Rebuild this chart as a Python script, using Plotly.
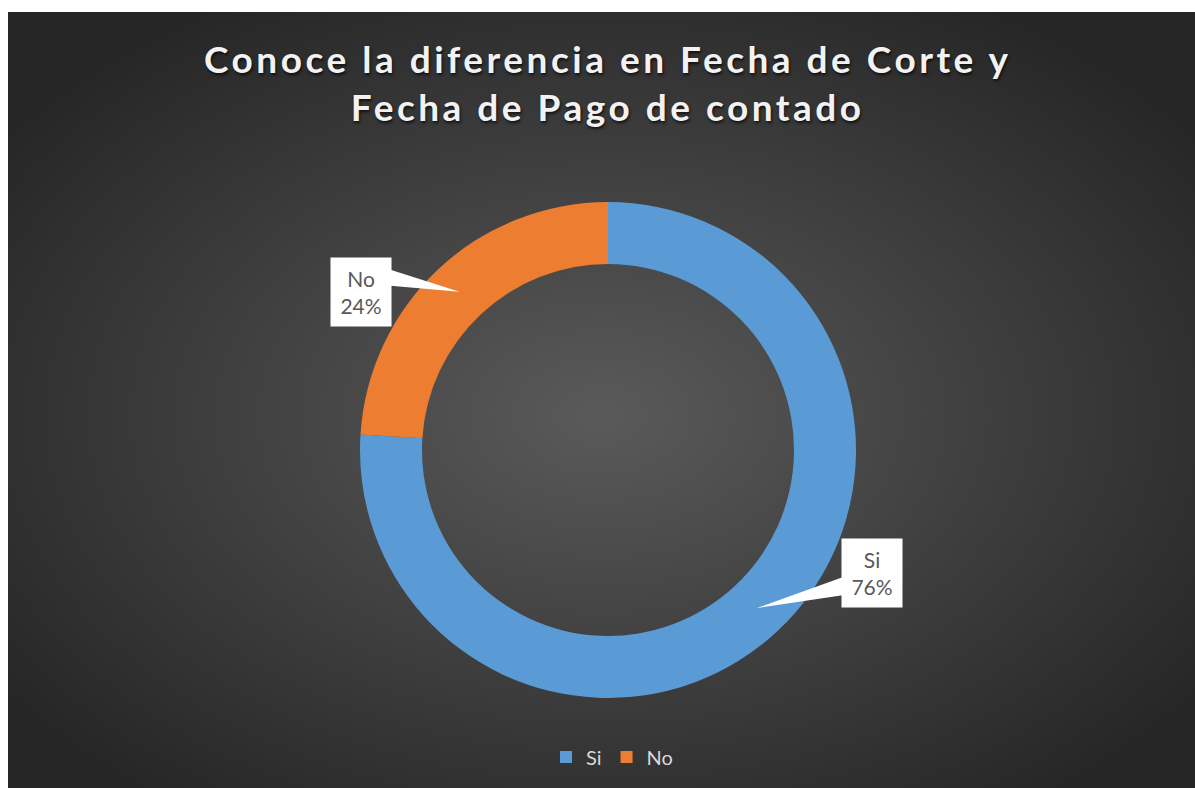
import math
import base64
import plotly.graph_objects as go

# ---- data ----
labels = ["Si", "No"]
values = [76, 24]
colors = ["#5B9BD5", "#ED7D31"]
title_lines = ["Conoce la diferencia en Fecha de Corte y", "Fecha de Pago de contado"]

W, H = 1195, 788
CX, CY, R = 608, 450, 248
HOLE = 0.75

def px(x):
    return x / W

def py(y):
    return 1 - y / H

fig = go.Figure()
fig.add_trace(go.Pie(
    labels=labels, values=values, hole=HOLE, sort=False, direction="clockwise",
    rotation=0, textinfo="none", hoverinfo="label+percent",
    marker=dict(colors=colors, line=dict(width=0)),
    domain=dict(x=[px(CX - R), px(CX + R)], y=[py(CY + R), py(CY - R)]),
))

# background gradient image (styling only)
svg = f'''<svg xmlns="http://www.w3.org/2000/svg" width="{W-8}" height="{H-12}">
<defs><radialGradient id="g" cx="50%" cy="52%" r="62%">
<stop offset="0%" stop-color="#5a5a5a"/><stop offset="100%" stop-color="#262626"/>
</radialGradient></defs><rect width="100%" height="100%" fill="url(#g)"/></svg>'''
src = "data:image/svg+xml;base64," + base64.b64encode(svg.encode()).decode()

FONT = "Lato, 'Open Sans', sans-serif"

annotations = [dict(
    x=px(CX), y=py(34), xref="paper", yref="paper", showarrow=False,
    xanchor="center", yanchor="top", align="center",
    text="<br>".join(title_lines),
    font=dict(family=FONT, size=37, color="#f2f2f2", weight="bold",
              shadow="1px 2px 3px rgba(0,0,0,0.7)"),
)]
shapes = []

# callout labels computed from data
total = sum(values)
r_mid = R * (1 + HOLE) / 2
box_off = {"No": (-98, 0), "Si": (115, -35)}
base_span = {"No": (-22, -6), "Si": (4, 22)}
box_w, box_h = 58, 66
cum = 0
for lab, v in zip(labels, values):
    frac = v / total
    mid = (cum + frac / 2) * 2 * math.pi
    cum += frac
    tx = CX + r_mid * math.sin(mid)
    ty = CY - r_mid * math.cos(mid)
    ox, oy = box_off[lab]
    bx, by = tx + ox, ty + oy
    edge_x = bx + (box_w / 2 if ox < 0 else -box_w / 2)
    b1, b2 = base_span[lab]
    path = (f"M {px(edge_x)},{py(by + b1)} L {px(tx)},{py(ty)} "
            f"L {px(edge_x)},{py(by + b2)} Z")
    shapes.append(dict(type="path", xref="paper", yref="paper", path=path,
                       fillcolor="white", line=dict(width=0), layer="above"))
    annotations.append(dict(
        x=px(bx), y=py(by), xref="paper", yref="paper", showarrow=False,
        xanchor="center", yanchor="middle",
        text=f"{lab}<br>{round(frac*100)}%", bgcolor="white", width=box_w, height=box_h,
        font=dict(family=FONT, size=21, color="#595959"),
        align="center", valign="middle",
    ))

fig.update_layout(
    width=W, height=H, margin=dict(l=0, r=0, t=0, b=0),
    paper_bgcolor="white", plot_bgcolor="rgba(0,0,0,0)",
    images=[dict(source=src, xref="paper", yref="paper", x=px(8), y=py(12),
                 sizex=(W - 8) / W, sizey=(H - 12) / H,
                 sizing="stretch", xanchor="left", yanchor="top", layer="below")],
    legend=dict(orientation="h", x=px(CX + 4), xanchor="center", y=py(757), yanchor="middle",
                font=dict(family=FONT, size=20, color="#d9d9d9"),
                bgcolor="rgba(0,0,0,0)", itemwidth=30, traceorder="normal"),
    shapes=shapes, annotations=annotations,
)

post = """
var s=document.createElement('style');
s.textContent='body{margin:0 !important;overflow:hidden} .annotation[data-index="0"] text{letter-spacing:3.5px}';
document.head.appendChild(s);
"""
fig.write_html("out.html", post_script=post, config={"displayModeBar": False})
